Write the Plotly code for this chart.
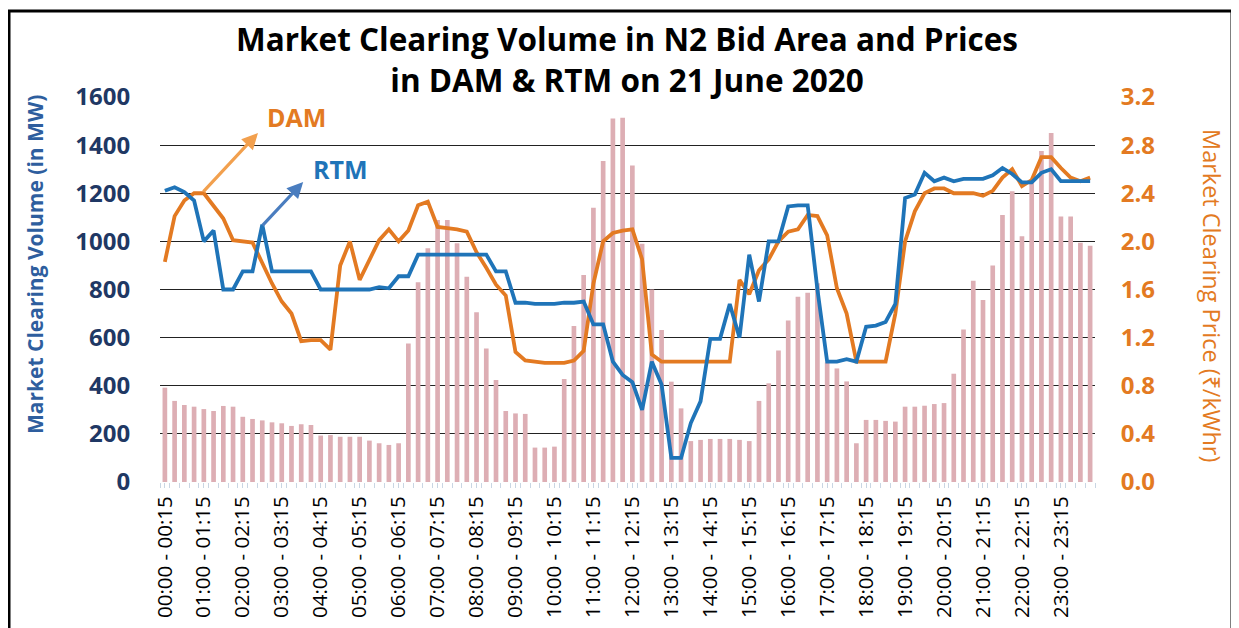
import plotly.graph_objects as go

# ---------------- data ----------------
block_labels = []
for h in range(24):
    for q in range(4):
        m0 = q * 15
        h1, m1 = (h, m0 + 15) if m0 + 15 < 60 else (h + 1, 0)
        block_labels.append(f"{h:02d}:{m0:02d} - {h1 % 24:02d}:{m1:02d}")

tick_labels = [f"{h:02d}:00 - {h:02d}:15" for h in range(24)]

volume_mw = [392, 337, 320, 313, 303, 295, 316, 313, 271, 262, 256, 248, 244, 233, 240, 237,
             193, 195, 188, 188, 188, 172, 161, 154, 161, 576, 830, 971, 1089, 1089, 992, 853,
             705, 555, 424, 295, 285, 283, 143, 143, 147, 428, 648, 860, 1140, 1334, 1511, 1514,
             1315, 990, 800, 632, 417, 306, 170, 175, 179, 179, 179, 175, 170, 337, 410, 546,
             671, 770, 787, 826, 497, 472, 418, 161, 258, 258, 254, 251, 313, 313, 317, 324,
             328, 450, 634, 836, 756, 900, 1110, 1208, 1021, 1250, 1376, 1450, 1103, 1103, 994, 982]

dam_price = [1.83, 2.21, 2.34, 2.40, 2.40, 2.30, 2.19, 2.01, 2.00, 1.99, 1.82, 1.65, 1.50, 1.40, 1.17, 1.18,
             1.18, 1.10, 1.80, 2.00, 1.68, 1.84, 2.01, 2.10, 2.00, 2.09, 2.30, 2.33, 2.12, 2.11, 2.10, 2.08,
             1.91, 1.78, 1.64, 1.55, 1.08, 1.01, 1.00, 0.99, 0.99, 0.99, 1.01, 1.09, 1.65, 2.00, 2.07, 2.09,
             2.10, 1.85, 1.06, 1.00, 1.00, 1.00, 1.00, 1.00, 1.00, 1.00, 1.00, 1.68, 1.56, 1.76, 1.85, 2.00,
             2.08, 2.10, 2.22, 2.21, 2.05, 1.61, 1.40, 1.00, 1.00, 1.00, 1.00, 1.40, 2.00, 2.25, 2.40, 2.44,
             2.44, 2.40, 2.40, 2.40, 2.38, 2.42, 2.53, 2.60, 2.46, 2.51, 2.70, 2.70, 2.61, 2.53, 2.50, 2.53]

rtm_price = [2.42, 2.45, 2.41, 2.34, 2.00, 2.09, 1.60, 1.60, 1.75, 1.75, 2.14, 1.75, 1.75, 1.75, 1.75, 1.75,
             1.60, 1.60, 1.60, 1.60, 1.60, 1.60, 1.62, 1.61, 1.71, 1.71, 1.89, 1.89, 1.89, 1.89, 1.89, 1.89,
             1.89, 1.89, 1.75, 1.75, 1.49, 1.49, 1.48, 1.48, 1.48, 1.49, 1.49, 1.50, 1.31, 1.31, 1.00, 0.89,
             0.83, 0.60, 1.00, 0.81, 0.20, 0.20, 0.49, 0.67, 1.19, 1.19, 1.48, 1.20, 1.89, 1.50, 2.00, 2.00,
             2.29, 2.30, 2.30, 1.60, 1.00, 1.00, 1.02, 1.00, 1.29, 1.30, 1.33, 1.48, 2.36, 2.39, 2.57, 2.50,
             2.53, 2.50, 2.52, 2.52, 2.52, 2.55, 2.61, 2.56, 2.49, 2.49, 2.57, 2.60, 2.50, 2.50, 2.50, 2.50]

volume_ticks = [0, 200, 400, 600, 800, 1000, 1200, 1400, 1600]
price_ticks = [0.0, 0.4, 0.8, 1.2, 1.6, 2.0, 2.4, 2.8, 3.2]

# ---------------- figure ----------------
x_idx = list(range(len(block_labels)))
FONT = "Open Sans"
ORANGE = "#E37A22"
BLUE = "#1F74B8"

# page geometry (the page body adds an 8 px offset)
OFF = 8
PL, PR, PT, PB = 160, 1095, 97, 482   # plot area in page pixels
W, H = 1231, 620


def px(xp):
    return (xp - PL) / (PR - PL)


def py(yp):
    return (PB - yp) / (PB - PT)


fig = go.Figure()
fig.add_trace(go.Bar(x=x_idx, y=volume_mw, width=0.48, marker=dict(color="rgb(221,174,180)", line=dict(width=0)),
                     name="Volume", hovertext=block_labels))
fig.add_trace(go.Scatter(x=x_idx, y=dam_price, yaxis="y2", mode="lines", name="DAM",
                         line=dict(color=ORANGE, width=3.8)))
fig.add_trace(go.Scatter(x=x_idx, y=rtm_price, yaxis="y2", mode="lines", name="RTM",
                         line=dict(color=BLUE, width=3.8)))

fig.update_layout(
    width=W, height=H,
    margin=dict(l=PL - OFF, r=W - (PR - OFF), t=PT - OFF, b=H - (PB - OFF), autoexpand=False),
    paper_bgcolor="white", plot_bgcolor="white",
    showlegend=False,
    font=dict(family=FONT),
    xaxis=dict(range=[-0.5, 95.5], tickmode="array", tickvals=list(range(0, 96, 4)), ticktext=tick_labels,
               tickangle=-90, tickfont=dict(family=FONT, size=20.5, color="black"),
               showgrid=False, zeroline=False, ticks="outside", ticklen=5, tickcolor="#C9D6E3",
               minor=dict(ticks="outside", tick0=-0.5, dtick=1, ticklen=5, tickcolor="#C9D6E3"),
               showline=False, automargin=False),
    yaxis=dict(range=[0, 1600], tickvals=volume_ticks,
               tickfont=dict(family=FONT, size=24, color="#1F3864", weight="bold"),
               showgrid=True, gridcolor="#222222", gridwidth=1.2, zeroline=False,
               ticks="outside", ticklen=24, tickcolor="rgba(0,0,0,0)", showline=False,
               tickformat="d", automargin=False),
    yaxis2=dict(range=[0, 3.2], tickvals=price_ticks, overlaying="y", side="right",
                tickfont=dict(family=FONT, size=24, color=ORANGE, weight="bold"), showgrid=False, zeroline=False,
                ticks="outside", ticklen=20, tickcolor="rgba(0,0,0,0)", tickformat=".1f", automargin=False),
)

ann = []
ann.append(dict(text="<b>Market Clearing Volume in N2 Bid Area and Prices<br>in DAM &amp; RTM on 21 June 2020</b>",
                xref="paper", yref="paper", x=px(627), y=py(59), xanchor="center", yanchor="middle",
                align="center", showarrow=False, font=dict(family=FONT, size=31.5, color="black")))
ann.append(dict(text="<b>Market Clearing Volume (in MW)</b>", xref="paper", yref="paper",
                x=px(35), y=py(265), xanchor="center", yanchor="middle", textangle=-90, showarrow=False,
                font=dict(family=FONT, size=21, color="#2E5E9E")))
ann.append(dict(text="Market Clearing Price (₹/kWhr)", xref="paper", yref="paper",
                x=px(1212), y=py(295), xanchor="center", yanchor="middle", textangle=90, showarrow=False,
                font=dict(family=FONT, size=23.5, color=ORANGE)))
# series labels with arrows
ann.append(dict(text="<b>DAM</b>", xref="x", yref="y", x=13.5, y=1515, showarrow=False,
                xanchor="center", yanchor="middle", font=dict(family=FONT, size=25, color=ORANGE)))
ann.append(dict(text="<b>RTM</b>", xref="x", yref="y", x=18.0, y=1300, showarrow=False,
                xanchor="center", yanchor="middle", font=dict(family=FONT, size=25, color=BLUE)))
ann.append(dict(text="", xref="x", yref="y", x=9.56, y=1450, ax=-56, ay=60, showarrow=True,
                arrowhead=2, arrowsize=1, arrowwidth=3.2, arrowcolor="#F2A04E"))
ann.append(dict(text="", xref="x", yref="y", x=14.2, y=1247, ax=-42, ay=45, showarrow=True,
                arrowhead=2, arrowsize=1, arrowwidth=3.2, arrowcolor="#4A7DBF"))
fig.update_layout(annotations=ann)

# outer frame
fig.add_shape(type="rect", xref="paper", yref="paper",
              x0=px(9), x1=px(1232), y0=py(660), y1=py(11),
              line=dict(color="black", width=3), fillcolor="rgba(0,0,0,0)", layer="above")

fig.write_html("out.html")
